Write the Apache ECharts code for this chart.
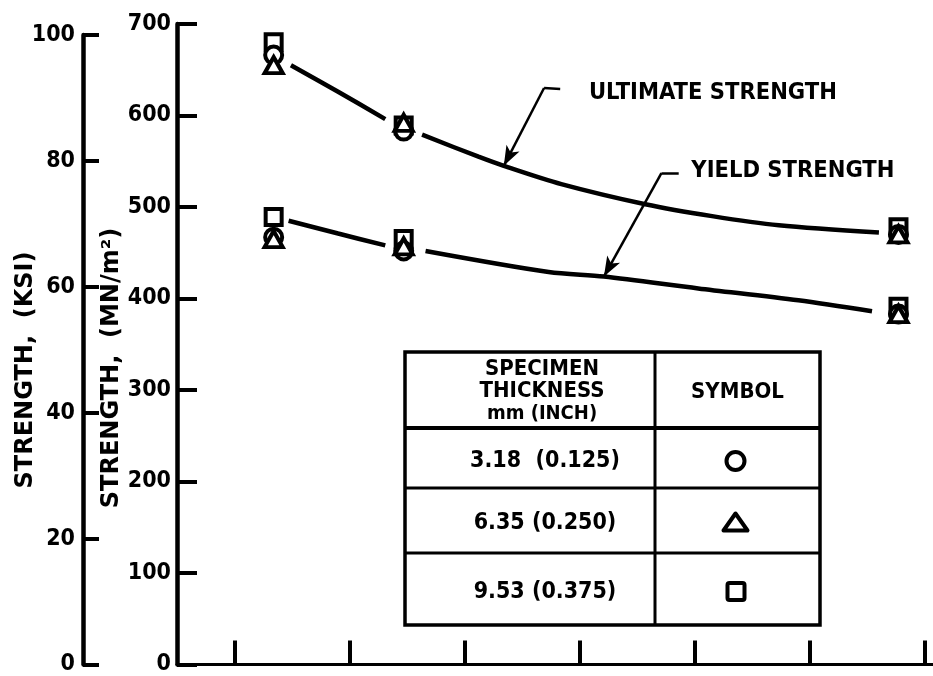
<!DOCTYPE html>
<html>
<head>
<meta charset="utf-8">
<script src="https://cdn.jsdelivr.net/npm/echarts@6/dist/echarts.min.js"></script>
<style>
  html, body { margin: 0; padding: 0; background: #fff; }
  #chart { width: 933px; height: 676px; }
</style>
</head>
<body>
<div id="chart"></div>
<script>
// ---------- data ----------
const xTicks = [1, 2, 3, 4, 5, 6, 7];
const xGroups = [1.34, 2.47, 6.77];

// Ultimate strength (MN/m^2) by specimen thickness
const ultCircle   = [666, 583, 470];
const ultTriangle = [655, 592, 470];
const ultSquare   = [680, 589, 478];
// Yield strength (MN/m^2)
const yldCircle   = [467, 452, 383];
const yldTriangle = [465, 457, 383];
const yldSquare   = [489, 465, 391];

// faired curves (null = pen lifted around a marker group)
const ultCurveX = [1.49, 1.90, 2.31, null, 2.63, 3.12, 3.34, 3.84, 4.57, 5.15, 5.73, 6.60];
const ultCurveY = [655, 626, 596, null, 579, 555, 545, 525, 503, 490, 480, 472];
const yldCurveX = [1.47, 1.90, 2.31, null, 2.66, 3.73, 4.21, 5.03, 5.90, 6.54];
const yldCurveY = [485, 471, 458, null, 452, 429, 424, 411, 398, 386];

const mnTicks  = [0, 100, 200, 300, 400, 500, 600, 700];
const ksiTicks = [0, 20, 40, 60, 80, 100];

// annotation leaders: [elbow, end of short horizontal, arrow tip, text anchor]
const ultLeader = [[3.69, 630], [3.83, 629], [3.34, 545], [4.08, 625]];
const yldLeader = [[4.71, 537], [4.86, 537], [4.21, 424], [4.97, 540]];
const ultLabel = 'ULTIMATE STRENGTH';
const yldLabel = 'YIELD STRENGTH';

const tableHeader = ['SPECIMEN', 'THICKNESS', 'mm (INCH)'];
const tableSymbolHeader = 'SYMBOL';
const tableRows = ['3.18  (0.125)', '6.35 (0.250)', '9.53 (0.375)'];

// ---------- helpers ----------
const FONT = '"DejaVu Sans", sans-serif';
const CFONT = '"DejaVu Sans Condensed", "DejaVu Sans", sans-serif';
const BLACK = '#000';
function zipCurve(xs, ys) {
  return xs.map((x, i) => x === null ? [xGroups[1], '-'] : [x, ys[i]]);
}
function zipPts(ys) { return ys.map((y, i) => [xGroups[i], y]); }

function leaderMarkLine(ld) {
  return {
    silent: true,
    animation: false,
    symbol: ['none', 'arrow'],
    symbolSize: [11, 20],
    label: { show: false },
    lineStyle: { color: BLACK, width: 2.5, type: 'solid' },
    data: [
      [{ coord: ld[0], symbol: 'none' }, { coord: ld[2], symbol: 'arrow' }],
      [{ coord: ld[0], symbol: 'none' }, { coord: ld[1], symbol: 'none' }]
    ]
  };
}

const markerStyle = { color: '#fff', borderColor: BLACK, borderWidth: 4, opacity: 1 };

const chart = echarts.init(document.getElementById('chart'), null, { renderer: 'canvas' });

const option = {
  animation: false,
  backgroundColor: '#fff',
  grid: [
    { left: 177, right: 0, top: 24, bottom: 8 },
    { left: 83, width: 20, top: 35, bottom: 8 }
  ],
  xAxis: [
    {
      gridIndex: 0, type: 'value', min: 0.5, max: 7.07,
      axisLine: { onZero: false, lineStyle: { color: BLACK, width: 3 } },
      axisTick: { show: true, inside: true, length: 24, customValues: xTicks, lineStyle: { color: BLACK, width: 4 } },
      axisLabel: { show: false },
      splitLine: { show: false }
    },
    { gridIndex: 1, type: 'value', min: 0, max: 1, show: false }
  ],
  yAxis: [
    {
      gridIndex: 0, type: 'value', min: 0, max: 700, interval: 100,
      axisLine: { show: true, onZero: false, lineStyle: { color: BLACK, width: 4.5 } },
      axisTick: { show: true, inside: true, length: 20, lineStyle: { color: BLACK, width: 4 } },
      axisLabel: { color: BLACK, fontSize: 23, fontWeight: 'bold', fontFamily: CFONT, margin: 6,
                   customValues: mnTicks },
      splitLine: { show: false }
    },
    {
      gridIndex: 1, type: 'value', min: 0, max: 100, interval: 20,
      axisLine: { show: true, onZero: false, lineStyle: { color: BLACK, width: 4.5 } },
      axisTick: { show: true, inside: true, length: 16, lineStyle: { color: BLACK, width: 4 } },
      axisLabel: { color: BLACK, fontSize: 23, fontWeight: 'bold', fontFamily: CFONT, margin: 8,
                   customValues: ksiTicks },
      splitLine: { show: false }
    }
  ],
  series: [
    {
      name: 'Ultimate strength', type: 'line', xAxisIndex: 0, yAxisIndex: 0,
      data: zipCurve(ultCurveX, ultCurveY), smooth: 0.3, showSymbol: false, symbol: 'none',
      connectNulls: false, lineStyle: { color: BLACK, width: 4.5 }, z: 2,
      markLine: leaderMarkLine(ultLeader)
    },
    {
      name: 'Yield strength', type: 'line', xAxisIndex: 0, yAxisIndex: 0,
      data: zipCurve(yldCurveX, yldCurveY), smooth: 0.3, showSymbol: false, symbol: 'none',
      connectNulls: false, lineStyle: { color: BLACK, width: 4.5 }, z: 2,
      markLine: leaderMarkLine(yldLeader)
    },
    {
      name: '9.53 (0.375)', type: 'scatter', symbol: 'rect', symbolSize: [16, 16],
      data: zipPts(ultSquare).concat(zipPts(yldSquare)), itemStyle: markerStyle, z: 5
    },
    {
      name: '3.18 (0.125)', type: 'scatter', symbol: 'circle', symbolSize: 17,
      data: zipPts(ultCircle).concat(zipPts(yldCircle)), itemStyle: markerStyle, z: 6
    },
    {
      name: '6.35 (0.250)', type: 'scatter', symbol: 'triangle', symbolSize: [18, 16],
      data: zipPts(ultTriangle).concat(zipPts(yldTriangle)), itemStyle: markerStyle, z: 7
    }
  ]
};

chart.setOption(option);

// ---------- annotations, titles, table ----------
function px(p) { return chart.convertToPixel({ gridIndex: 0 }, p); }
const ultT = px(ultLeader[3]);
const yldT = px(yldLeader[3]);

const textStyle = (t, size, fam, extra) => Object.assign({
  text: t, fill: BLACK, font: 'bold ' + size + 'px ' + fam
}, extra || {});

// table geometry
const T = { x0: 405, x1: 820, xm: 655, y0: 352, yh: 428, y1: 625, rows: [488, 553] };
const rowCenters = [(T.yh + T.rows[0]) / 2, (T.rows[0] + T.rows[1]) / 2, (T.rows[1] + T.y1) / 2];
const colA = (T.x0 + T.xm) / 2, colB = (T.xm + T.x1) / 2;

const tableChildren = [
  { type: 'rect', shape: { x: T.x0, y: T.y0, width: T.x1 - T.x0, height: T.y1 - T.y0 },
    style: { fill: '#fff', stroke: BLACK, lineWidth: 3.5 } },
  { type: 'line', shape: { x1: T.xm, y1: T.y0, x2: T.xm, y2: T.y1 }, style: { stroke: BLACK, lineWidth: 3 } },
  { type: 'line', shape: { x1: T.x0, y1: T.yh, x2: T.x1, y2: T.yh }, style: { stroke: BLACK, lineWidth: 4 } },
  { type: 'line', shape: { x1: T.x0, y1: T.rows[0], x2: T.x1, y2: T.rows[0] }, style: { stroke: BLACK, lineWidth: 3 } },
  { type: 'line', shape: { x1: T.x0, y1: T.rows[1], x2: T.x1, y2: T.rows[1] }, style: { stroke: BLACK, lineWidth: 3 } }
];
tableHeader.forEach((t, i) => {
  tableChildren.push({ type: 'text', x: colA + 12, y: 369 + i * 22.5,
    style: textStyle(t, i === 2 ? 20 : 22, CFONT, { align: 'center', verticalAlign: 'middle' }) });
});
tableChildren.push({ type: 'text', x: colB, y: (T.y0 + T.yh) / 2 + 2,
  style: textStyle(tableSymbolHeader, 22, CFONT, { align: 'center', verticalAlign: 'middle' }) });
tableRows.forEach((t, i) => {
  tableChildren.push({ type: 'text', x: colA + 15, y: rowCenters[i] + 3,
    style: textStyle(t, 23, CFONT, { align: 'center', verticalAlign: 'middle' }) });
});
// symbols in table
tableChildren.push({ type: 'circle', shape: { cx: colB - 2, cy: rowCenters[0] + 3, r: 9 },
  style: { fill: '#fff', stroke: BLACK, lineWidth: 4 } });
tableChildren.push({ type: 'polygon', shape: { points: [[colB - 2, rowCenters[1] - 7], [colB + 10, rowCenters[1] + 10], [colB - 14, rowCenters[1] + 10]] },
  style: { fill: '#fff', stroke: BLACK, lineWidth: 4, lineJoin: 'round' } });
tableChildren.push({ type: 'rect', shape: { x: colB - 10, y: rowCenters[2] - 6, width: 17, height: 17, r: 2 },
  style: { fill: '#fff', stroke: BLACK, lineWidth: 4 } });

chart.setOption({
  graphic: [
    { type: 'text', x: 26, y: 370, rotation: Math.PI / 2,
      style: textStyle('STRENGTH,  (KSI)', 24, FONT, { align: 'center', verticalAlign: 'middle' }) },
    { type: 'text', x: 112, y: 368, rotation: Math.PI / 2,
      style: textStyle('STRENGTH,  (MN/m²)', 24, FONT, { align: 'center', verticalAlign: 'middle' }) },
    { type: 'text', x: ultT[0], y: ultT[1],
      style: textStyle(ultLabel, 23.5, CFONT, { align: 'left', verticalAlign: 'middle' }) },
    { type: 'text', x: yldT[0], y: yldT[1],
      style: textStyle(yldLabel, 23.5, CFONT, { align: 'left', verticalAlign: 'middle' }) },
    { type: 'group', children: tableChildren, z: 10 }
  ]
});
</script>
</body>
</html>
